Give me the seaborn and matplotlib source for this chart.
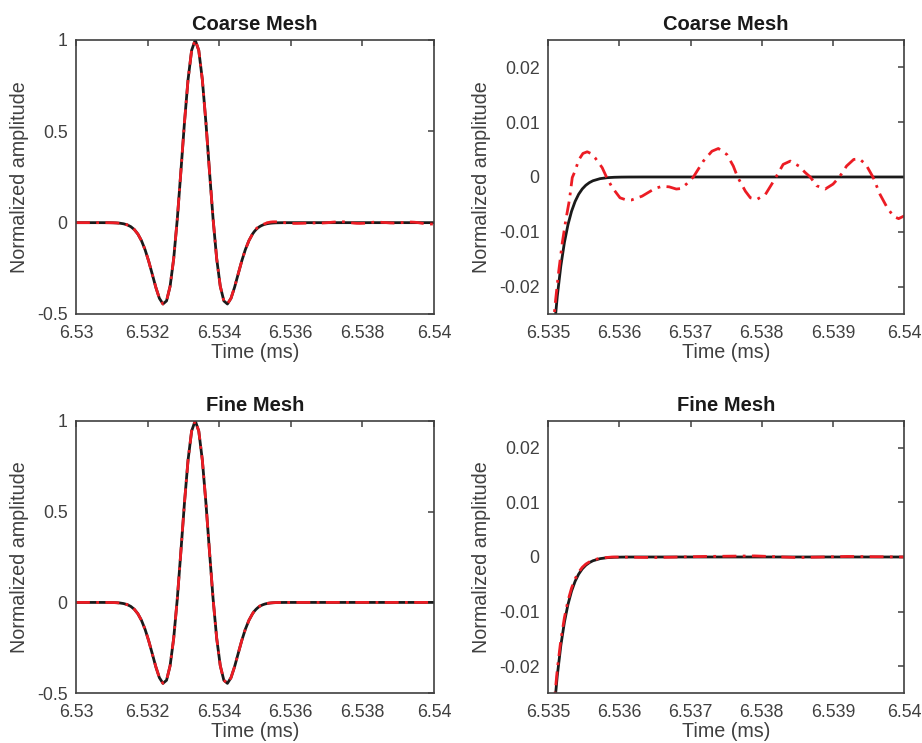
import seaborn as sns
from matplotlib import pyplot as plt

''' Data read off the figure (time in ms, normalized amplitude) '''
# shared pulse (both meshes follow the reference here)
pulse_time = [6.53, 6.53073, 6.53083, 6.53093, 6.53103, 6.53113, 6.53123, 6.53133,
              6.53143, 6.53153, 6.53163, 6.53173, 6.53183, 6.53193, 6.53203, 6.53213,
              6.53223, 6.53233, 6.53243, 6.53253, 6.53263, 6.53273, 6.53283, 6.53293,
              6.53303, 6.53313, 6.53323, 6.53333, 6.53343, 6.53353, 6.53363, 6.53373,
              6.53383, 6.53393, 6.53403, 6.53413, 6.53423, 6.53433, 6.53443, 6.53453,
              6.53463, 6.53473, 6.53483, 6.53493]
pulse_amp = [0.0, -0.000052, -0.000128, -0.000305, -0.00069, -0.00151, -0.00314, -0.00626,
             -0.01194, -0.02174, -0.0378, -0.06264, -0.0988, -0.1481, -0.2101, -0.2815,
             -0.3539, -0.4143, -0.4453, -0.4282, -0.3477, -0.1964, 0.0195, 0.2789,
             0.5472, 0.7821, 0.9428, 1.0, 0.9428, 0.7821, 0.5472, 0.2789,
             0.0195, -0.1964, -0.3477, -0.4282, -0.4453, -0.4143, -0.3539, -0.2815,
             -0.2101, -0.1481, -0.0988, -0.06264]

# reference solution after the pulse
ref_tail_time = [6.53498, 6.53503, 6.53508, 6.53513, 6.53518, 6.53523, 6.53528, 6.53533,
                 6.53538, 6.53543, 6.53548, 6.53553, 6.53558, 6.53563, 6.53573, 6.53583,
                 6.53593, 6.53603, 6.53613, 6.53633, 6.54]
ref_tail_amp = [-0.04896, -0.0378, -0.02884, -0.02174, -0.0162, -0.01194, -0.00869, -0.00626,
                -0.00446, -0.00314, -0.00219, -0.00151, -0.00103, -0.00069, -0.000305, -0.000128,
                -0.000052, -0.00002, -0.0000075, -0.0000009, 0.0]

# coarse mesh result after the pulse
coarse_tail_time = [6.535, 6.53505, 6.5351, 6.53515, 6.5352, 6.53525, 6.5353, 6.53534,
                    6.53538, 6.53543, 6.53549, 6.53555, 6.5356, 6.53566, 6.53576, 6.53582,
                    6.5359, 6.53601, 6.5361, 6.53617, 6.53632, 6.5365, 6.5366, 6.5367,
                    6.5368, 6.53687, 6.53695, 6.53704, 6.53718, 6.5373, 6.53739, 6.53751,
                    6.5376, 6.53766, 6.53777, 6.53784, 6.53793, 6.53805, 6.53814, 6.5382,
                    6.5383, 6.5384, 6.53852, 6.53861, 6.53868, 6.53877, 6.53889, 6.539,
                    6.53909, 6.53919, 6.53929, 6.53937, 6.53946, 6.53956, 6.53966, 6.53976,
                    6.53985, 6.53992, 6.54]
coarse_tail_amp = [-0.04, -0.0305, -0.0232, -0.0172, -0.012, -0.0078, -0.0042, -0.0001,
                   0.0011, 0.0031, 0.0043, 0.0046, 0.0043, 0.0035, 0.0017, 0.0,
                   -0.0019, -0.0038, -0.0042, -0.0042, -0.0035, -0.0021, -0.0017, -0.0018,
                   -0.0022, -0.0021, -0.0012, 0.0, 0.0029, 0.0047, 0.0052, 0.0041,
                   0.002, 0.0, -0.0026, -0.0038, -0.0041, -0.0032, -0.0013, 0.0,
                   0.0023, 0.0029, 0.002, 0.0008, 0.0, -0.0016, -0.0022, -0.0013,
                   0.0, 0.002, 0.0032, 0.0033, 0.0023, 0.0, -0.0032, -0.0056,
                   -0.0072, -0.0076, -0.0071]

# fine mesh result after the pulse
fine_tail_time = [6.53498, 6.53503, 6.53508, 6.53513, 6.53518, 6.53523, 6.53528, 6.53533,
                  6.53538, 6.53543, 6.53548, 6.53553, 6.53558, 6.53563, 6.53573, 6.5359,
                  6.5365, 6.5372, 6.5379, 6.5385, 6.5392, 6.54]
fine_tail_amp = [-0.0475, -0.0365, -0.0276, -0.0206, -0.0152, -0.0111, -0.008, -0.0057,
                 -0.004, -0.0028, -0.0019, -0.0013, -0.0009, -0.0006, -0.0002, 0.0,
                 -0.0001, 0.0001, 0.0002, -0.0001, 0.0001, 0.0]

titles = ['Coarse Mesh', 'Fine Mesh']
full_ticks = [6.53, 6.532, 6.534, 6.536, 6.538, 6.54]
full_yticks = [-0.5, 0, 0.5, 1]
zoom_ticks = [6.535, 6.536, 6.537, 6.538, 6.539, 6.54]
zoom_yticks = [-0.02, -0.01, 0, 0.01, 0.02]

''' Style '''
sns.set_theme(style='white')
plt.rcParams['font.family'] = ['Liberation Sans', 'DejaVu Sans']
plt.rcParams['axes.unicode_minus'] = False

GREY = '#404040'
BLACK = '#1a1a1a'
RED = '#ec1c24'
DASHDOT = (0, (5, 2.3, 1, 2.3))

fig = plt.figure(figsize=(9.22, 7.43), dpi=100)

positions = {
       (0, 0): [0.0824, 0.5774, 0.3883, 0.3688],
       (0, 1): [0.5944, 0.5774, 0.3864, 0.3688],
       (1, 0): [0.0824, 0.0669, 0.3883, 0.3669],
       (1, 1): [0.5944, 0.0669, 0.3864, 0.3669],
}

ref_time = pulse_time + ref_tail_time
ref_amp = pulse_amp + ref_tail_amp
mesh_data = [(pulse_time + coarse_tail_time, pulse_amp + coarse_tail_amp),
             (pulse_time + fine_tail_time, pulse_amp + fine_tail_amp)]

def fmt(v):
       return f'{v:g}'

for row in range(2):
       num_time, num_amp = mesh_data[row]
       for col in range(2):
              ax = fig.add_axes(positions[(row, col)])
              sns.lineplot(x=ref_time, y=ref_amp, ax=ax, color=BLACK, linewidth=2,
                           estimator=None, sort=False)
              sns.lineplot(x=num_time, y=num_amp, ax=ax, color=RED, linewidth=2,
                           linestyle=DASHDOT, estimator=None, sort=False)

              if col == 0:
                     ax.set_xlim(6.53, 6.54)
                     ax.set_ylim(-0.5, 1)
                     ax.set_xticks(full_ticks)
                     ax.set_xticklabels([fmt(t) for t in full_ticks])
                     ax.set_yticks(full_yticks)
                     ax.set_yticklabels([fmt(t) for t in full_yticks])
              else:
                     ax.set_xlim(6.535, 6.54)
                     ax.set_ylim(-0.025, 0.025)
                     ax.set_xticks(zoom_ticks)
                     ax.set_xticklabels([fmt(t) for t in zoom_ticks])
                     ax.set_yticks(zoom_yticks)
                     ax.set_yticklabels([fmt(t) for t in zoom_yticks])

              ax.set_title(titles[row], fontsize=14.5, fontweight='bold', color='#1a1a1a', pad=7)
              ax.set_xlabel('Time (ms)', fontsize=14.2, color=GREY, labelpad=0.5)
              ax.set_ylabel('Normalized amplitude', fontsize=14.2, color=GREY, labelpad=6)
              ax.tick_params(direction='in', top=True, right=True, length=4, width=1.1,
                             colors=GREY, labelsize=12.8)
              ax.tick_params(axis='x', pad=8)
              ax.tick_params(axis='y', pad=6)
              for s in ax.spines.values():
                     s.set_color(GREY)
                     s.set_linewidth(1.2)
                     s.set_visible(True)

fig.savefig('out.png', dpi=100)
